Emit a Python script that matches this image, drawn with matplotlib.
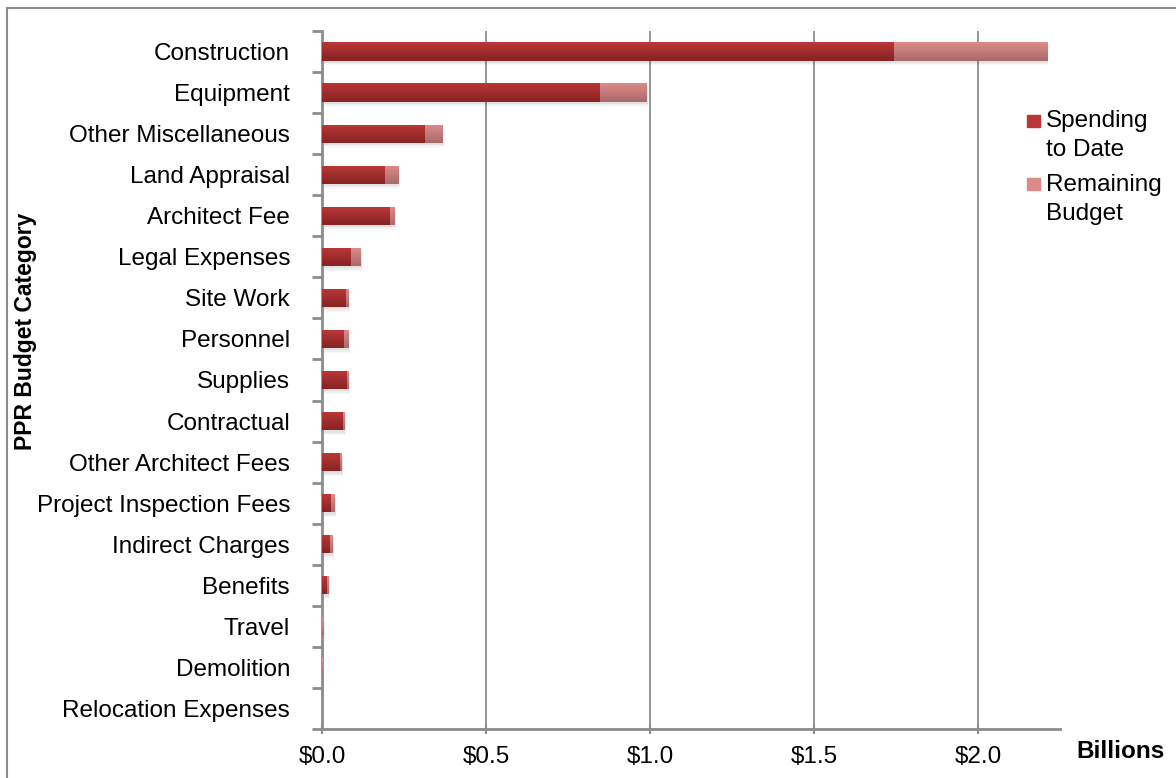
import numpy as np
import matplotlib.pyplot as plt
from matplotlib.colors import to_rgb
from matplotlib.patches import Rectangle

plt.rcParams['font.family'] = ['Liberation Sans', 'DejaVu Sans']

categories = ['Construction', 'Equipment', 'Other Miscellaneous', 'Land Appraisal',
              'Architect Fee', 'Legal Expenses', 'Site Work', 'Personnel', 'Supplies',
              'Contractual', 'Other Architect Fees', 'Project Inspection Fees',
              'Indirect Charges', 'Benefits', 'Travel', 'Demolition', 'Relocation Expenses']
# billions of dollars
spent = [1.744, 0.849, 0.314, 0.192, 0.207, 0.088, 0.073, 0.067, 0.076,
         0.064, 0.055, 0.027, 0.024, 0.015, 0.001, 0.001, 0.0005]
remaining = [0.468, 0.142, 0.054, 0.042, 0.015, 0.031, 0.009, 0.015, 0.006,
             0.006, 0.006, 0.013, 0.009, 0.006, 0.005, 0.0008, 0.0003]
xticks = [0.0, 0.5, 1.0, 1.5, 2.0]
xticklabels = ['$0.0', '$0.5', '$1.0', '$1.5', '$2.0']
series = ['Spending\nto Date', 'Remaining\nBudget']

spent_top, spent_bot = '#b93636', '#872323'
rem_top, rem_bot = '#dc8a88', '#ab6a6a'
FS = 17.5
W, H = 1176, 778


def gradient_barh(ax, y, width, left, height, c_top, c_bot, n=24):
    # stack thin slices so the bar fades from c_top down to c_bot
    t, b = np.array(to_rgb(c_top)), np.array(to_rgb(c_bot))
    h = height / n
    for i in range(n):
        f = i / (n - 1)
        col = t * (1 - f) + b * f
        # y axis is inverted: larger y is lower on screen
        yc = y - height / 2 + h * (i + 0.5)
        ax.barh(yc, width, left=left, height=h * 1.3, color=col, linewidth=0, zorder=3)


fig = plt.figure(figsize=(W / 100, H / 100), dpi=100)
ax = fig.add_axes([322 / W, 1 - 729 / H, (1060 - 322) / W, (729 - 31) / H])

y = np.arange(len(categories))
bh = 0.44
total = np.array(spent) + np.array(remaining)

# soft drop shadow under each bar
for k, a in [(0.10, 0.04), (0.07, 0.06), (0.04, 0.08)]:
    ax.barh(y + k + 0.02, total + k * 0.04, height=bh, color='#555555', alpha=a,
            linewidth=0, zorder=2)

for yi, s, r in zip(y, spent, remaining):
    gradient_barh(ax, yi, s, 0, bh, spent_top, spent_bot)
    gradient_barh(ax, yi, r, s, bh, rem_top, rem_bot)

ax.set_ylim(len(categories) - 0.5, -0.5)
ax.set_xlim(0, 2.25)
ax.set_xticks(xticks)
ax.set_xticklabels(xticklabels, fontsize=FS)
ax.set_yticks(y)
ax.set_yticklabels(categories, fontsize=FS)
ax.set_yticks(np.arange(len(categories) + 1) - 0.5, minor=True)
ax.tick_params(axis='y', which='major', length=0, pad=23)
ax.tick_params(axis='y', which='minor', length=7, width=2, color='#8c8c8c')
ax.tick_params(axis='x', length=7, width=1.5, color='#8c8c8c', pad=9, direction='inout')

ax.grid(axis='x', color='#8c8c8c', linewidth=1.3, zorder=0)
ax.set_axisbelow(True)
for side in ['top', 'right']:
    ax.spines[side].set_visible(False)
for side in ['left', 'bottom']:
    ax.spines[side].set_color('#8c8c8c')
    ax.spines[side].set_linewidth(2)

fig.text(26 / W, 1 - 331 / H, 'PPR Budget Category', fontsize=16.5, fontweight='bold',
         rotation=90, ha='center', va='center')
fig.text(1165 / W, 1 - 752 / H, 'Billions', fontsize=FS, fontweight='bold',
         ha='right', va='center')

# legend, drawn by hand so the swatch sits on the first line of each label
for i, (lab, col) in enumerate(zip(series, [spent_top, rem_top])):
    top = 110 + i * 64
    fig.add_artist(Rectangle((1027 / W, 1 - 127 / H - i * 63 / H), 13 / W, 12 / H,
                             transform=fig.transFigure, color=col))
    fig.text(1046 / W, 1 - top / H, lab, fontsize=FS, ha='left', va='top',
             linespacing=1.4)

# chart area border
fig.add_artist(Rectangle((7 / W, -0.05), 1.2, 1 - 8 / H + 0.05, transform=fig.transFigure,
                         fill=False, edgecolor='#8c8c8c', linewidth=1.5))

fig.savefig('out.png', dpi=100)
